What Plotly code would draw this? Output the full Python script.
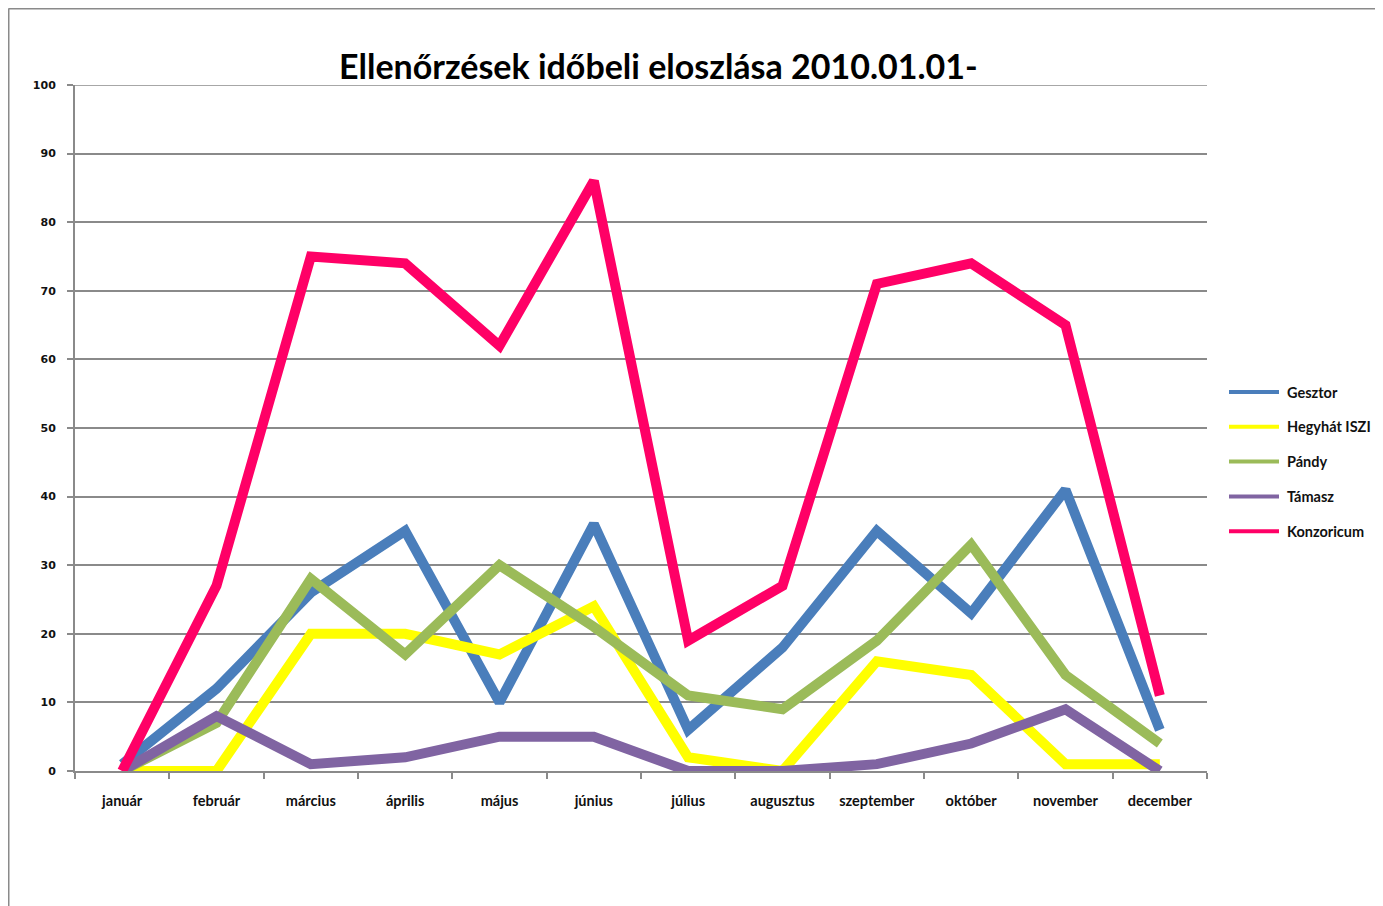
import plotly.graph_objects as go

months = ["január", "február", "március", "április", "május", "június",
          "július", "augusztus", "szeptember", "október", "november", "december"]

series_names = ["Gesztor", "Hegyhát ISZI", "Pándy", "Támasz", "Konzoricum"]
series_colors = ["#4A7EBB", "#FFFF00", "#9BBB59", "#8064A2", "#FF0066"]

gesztor = [1, 12, 26, 35, 10, 36, 6, 18, 35, 23, 41, 6]
hegyhat = [0, 0, 20, 20, 17, 24, 2, 0, 16, 14, 1, 1]
pandy = [0, 7, 28, 17, 30, 21, 11, 9, 19, 33, 14, 4]
tamasz = [0, 8, 1, 2, 5, 5, 0, 0, 1, 4, 9, 0]
konzorcium = [0, 27, 75, 74, 62, 86, 19, 27, 71, 74, 65, 11]

series_values = [gesztor, hegyhat, pandy, tamasz, konzorcium]

title_text = "Ellenőrzések időbeli eloszlása 2010.01.01-"
y_ticks = [0, 10, 20, 30, 40, 50, 60, 70, 80, 90, 100]

W, H = 1383, 906
OFF = 8  # page offset of the figure in the browser
L, R, T, B = 75 - OFF, 176 + OFF, 85 - OFF, 135 + OFF
pw, ph = W - L - R, H - T - B

fig = go.Figure()
for name, color, vals in zip(series_names, series_colors, series_values):
    fig.add_trace(go.Scatter(
        x=months, y=vals, mode="lines", name=name,
        line=dict(color=color, width=10),
        showlegend=False,
    ))

def px_x(x):
    return (x - OFF - L) / pw

def px_y(y):
    return (H - B - (y - OFF)) / ph

shapes = []
annotations = []
# top gridline at the axis maximum
shapes.append(dict(type="line", xref="paper", yref="y", layer="below",
                   x0=px_x(70), x1=1, y0=y_ticks[-1], y1=y_ticks[-1],
                   line=dict(color="#8a8a8a", width=1.5)))
# outer frame lines (left and top)
shapes.append(dict(type="line", xref="paper", yref="paper",
                   x0=px_x(8.5), x1=px_x(8.5), y0=px_y(8.5), y1=px_y(H + 20),
                   line=dict(color="#8a8a8a", width=2)))
shapes.append(dict(type="line", xref="paper", yref="paper",
                   x0=px_x(8.5), x1=px_x(W + 20), y0=px_y(8.5), y1=px_y(8.5),
                   line=dict(color="#8a8a8a", width=2)))

# manual legend
leg_y0 = 392
leg_dy = 34.8
for i, (name, color) in enumerate(zip(series_names, series_colors)):
    yy = leg_y0 + i * leg_dy
    shapes.append(dict(type="line", xref="paper", yref="paper",
                       x0=px_x(1229), x1=px_x(1279), y0=px_y(yy), y1=px_y(yy),
                       line=dict(color=color, width=4)))
    annotations.append(dict(xref="paper", yref="paper", x=px_x(1285), y=px_y(yy),
                            text=name, showarrow=False,
                            xanchor="left", yanchor="middle",
                            font=dict(family="Lato", size=14.5, color="#111111",
                                      weight="bold")))

annotations.append(dict(xref="paper", yref="paper", x=px_x(658), y=px_y(66),
                        text=title_text, showarrow=False,
                        xanchor="center", yanchor="middle",
                        font=dict(family="Lato", size=34, color="#000000",
                                  weight="bold")))

fig.update_layout(
    width=W, height=H,
    margin=dict(l=L, r=R, t=T, b=B, pad=0),
    paper_bgcolor="white", plot_bgcolor="white",
    shapes=shapes, annotations=annotations,
    showlegend=False,
)

fig.update_xaxes(
    type="category", range=[-0.5, 11.5],
    tickson="boundaries", ticks="outside", ticklen=6, tickwidth=1.5,
    tickcolor="#8a8a8a", showline=True, linecolor="#8a8a8a", linewidth=2,
    showgrid=False, ticklabelstandoff=16,
    tickfont=dict(family="Lato", size=14.5, color="#111111", weight="bold"),
)
fig.update_yaxes(
    range=[0, 100], tickvals=y_ticks, ticks="outside", ticklen=6,
    tickwidth=1.5, tickcolor="#8a8a8a",
    showline=True, linecolor="#8a8a8a", linewidth=2,
    showgrid=True, gridcolor="#8a8a8a", gridwidth=1.5,
    zeroline=False, ticklabelstandoff=9,
    tickfont=dict(family="DejaVu Sans", size=11, color="#111111",
                  weight="bold"),
)

fig.write_html("out.html")
